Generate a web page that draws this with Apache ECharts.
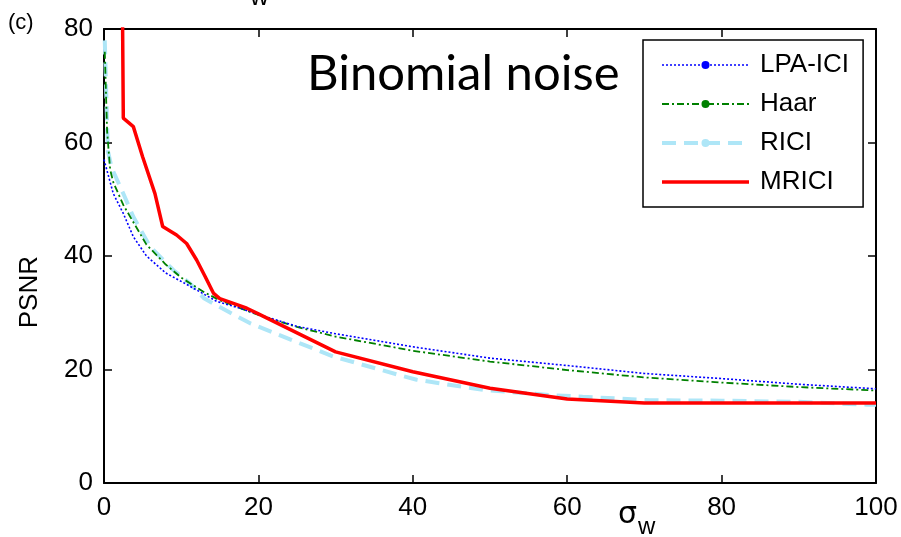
<!DOCTYPE html>
<html>
<head>
<meta charset="utf-8">
<script src="https://cdn.jsdelivr.net/npm/echarts@6/dist/echarts.min.js"></script>
<style>
  html, body { margin: 0; padding: 0; background: #fff; }
  #chart { width: 901px; height: 537px; }
</style>
</head>
<body>
<div id="chart"></div>
<script>
// sigma_w values and PSNR, per method
var lpaSigma = [0, 1.2, 2.5, 3.8, 5.5, 8, 10.3, 12.4, 14.6, 17.6, 20, 25, 30, 40, 50, 60, 70, 80, 90, 100]
var lpaPsnr  = [57, 51, 47.5, 43.4, 40, 37, 35.3, 33.7, 32, 30.8, 29.7, 27.6, 26.3, 24.0, 22.0, 20.7, 19.3, 18.4, 17.4, 16.6]

var haarSigma = [0.1, 0.4, 0.8, 1.2, 2.5, 4, 5.5, 8, 10, 13, 15, 20, 25, 30, 40, 50, 60, 70, 80, 90, 100]
var haarPsnr  = [76, 62, 55.2, 53, 49, 45.5, 42, 38.5, 36.2, 33.6, 32.2, 29.6, 27.5, 25.8, 23.3, 21.4, 19.9, 18.6, 17.7, 16.9, 16.3]

var riciSigma = [0.1, 0.5, 1.0, 2.5, 3.8, 6, 9, 11.1, 13, 15, 19, 25.4, 29.7, 38.3, 40.5, 49.1, 57.8, 62, 70.7, 80, 90, 98.8, 100]
var riciPsnr  = [78, 58.5, 55.5, 51, 46.9, 41.6, 37.5, 35.2, 32.5, 31.0, 28.1, 24.6, 22.3, 19.0, 18.2, 16.4, 15.5, 15.2, 14.6, 14.5, 14.3, 13.8, 13.8]

var mriciSigma = [2.3, 2.5, 3.8, 5, 6.6, 7.6, 9.4, 10.7, 12, 13.1, 14.2, 15, 18.5, 20, 30, 40, 50, 60, 70, 80, 90, 100]
var mriciPsnr  = [100, 64.3, 62.8, 57.5, 51, 45.2, 43.7, 42.2, 39.3, 36.4, 33.4, 32.5, 30.8, 29.8, 23.1, 19.6, 16.7, 14.8, 14.1, 14.1, 14.1, 14.1]

var seriesNames = ['LPA-ICI', 'Haar', 'RICI', 'MRICI']

function pairs(xs, ys) {
  return xs.map(function (x, i) { return [x, ys[i]] })
}

var chart = echarts.init(document.getElementById('chart'))

var axisFont = { fontFamily: 'Liberation Sans', fontSize: 26, color: '#000' }
var boxLine = { show: true, onZero: false, lineStyle: { color: '#000', width: 2 } }
var inTick = { show: true, inside: true, length: 8, lineStyle: { color: '#000', width: 1.5 } }

chart.setOption({
  animation: false,
  grid: { left: 104, right: 25, top: 29, bottom: 54 },
  legend: {
    data: [
      { name: 'LPA-ICI' },
      { name: 'Haar' },
      { name: 'RICI' },
      { name: 'MRICI', itemStyle: { color: 'rgba(0,0,0,0)' } }
    ],
    orient: 'vertical',
    left: 643,
    top: 40,
    padding: [12, 14, 12, 17],
    itemWidth: 87,
    itemHeight: 10,
    itemGap: 13,
    borderColor: '#000',
    borderWidth: 1.5,
    backgroundColor: '#fff',
    lineStyle: { width: 'inherit' },
    textStyle: { fontFamily: 'Liberation Sans', fontSize: 26, color: '#000', padding: [0, 0, 0, 6] }
  },
  graphic: [
    { type: 'text', left: 307, top: 50, style: { text: 'Binomial noise', font: '49px Lato', fill: '#000' } },
    { type: 'text', left: 8, top: 12, style: { text: '(c)', font: '22px "Liberation Sans"', fill: '#000' } },
    { type: 'text', left: 250, top: -15, style: { text: 'w', font: '26px "Liberation Sans"', fill: '#000' } },
    { type: 'text', left: 618, top: 500, style: { text: 'σ', font: '30px "DejaVu Sans"', fill: '#000' } },
    { type: 'text', left: 638, top: 515, style: { text: 'w', font: '24px "Liberation Sans"', fill: '#000' } },
    { type: 'text', left: 17, top: 256, rotation: Math.PI / 2,
      style: { text: 'PSNR', font: '26px "Liberation Sans"', fill: '#000', align: 'center', verticalAlign: 'middle' } }
  ],
  xAxis: [{
    type: 'value', min: 0, max: 100, interval: 20,
    axisLine: boxLine,
    axisTick: inTick,
    axisLabel: Object.assign({ margin: 12 }, axisFont),
    splitLine: { show: false }
  }, {
    type: 'value', position: 'top', min: 0, max: 100, interval: 20,
    axisLine: boxLine,
    axisTick: inTick,
    axisLabel: { show: false },
    splitLine: { show: false }
  }],
  yAxis: [{
    type: 'value', min: 0, max: 80, interval: 20,
    axisLine: boxLine,
    axisTick: inTick,
    axisLabel: Object.assign({ margin: 11 }, axisFont),
    splitLine: { show: false }
  }, {
    type: 'value', position: 'right', min: 0, max: 80, interval: 20,
    axisLine: boxLine,
    axisTick: inTick,
    axisLabel: { show: false },
    splitLine: { show: false }
  }],
  series: [{
    name: seriesNames[0], type: 'line',
    data: pairs(lpaSigma, lpaPsnr),
    showSymbol: false, symbol: 'circle',
    itemStyle: { color: '#0000ff' },
    lineStyle: { color: '#0000ff', width: 1.6, type: [2, 2] },
    z: 4
  }, {
    name: seriesNames[1], type: 'line',
    data: pairs(haarSigma, haarPsnr),
    showSymbol: false, symbol: 'circle',
    itemStyle: { color: '#008000' },
    lineStyle: { color: '#008000', width: 1.8, type: [7, 3, 2, 3] },
    z: 3
  }, {
    name: seriesNames[2], type: 'line',
    data: pairs(riciSigma, riciPsnr),
    showSymbol: false, symbol: 'circle',
    itemStyle: { color: '#aee6f7' },
    lineStyle: { color: '#aee6f7', width: 4, type: [14, 8] },
    z: 2
  }, {
    name: seriesNames[3], type: 'line',
    data: pairs(mriciSigma, mriciPsnr),
    showSymbol: false, symbol: 'none',
    itemStyle: { color: '#ff0000' },
    lineStyle: { color: '#ff0000', width: 3.5 },
    z: 5
  }]
})
</script>
</body>
</html>
